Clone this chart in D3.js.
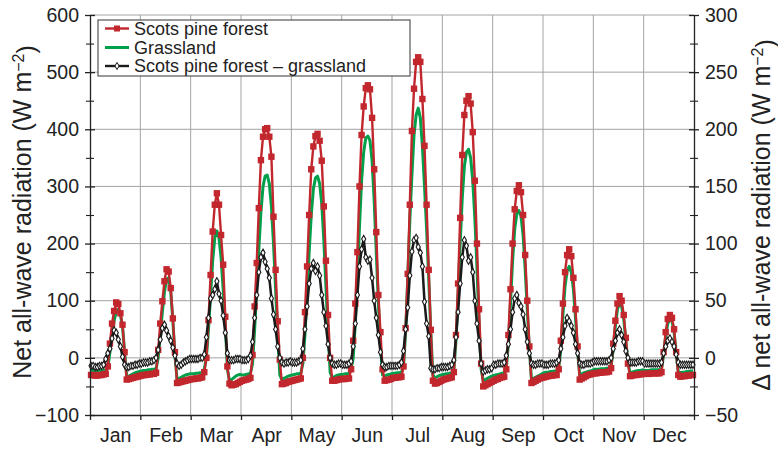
<!DOCTYPE html>
<html>
<head>
<meta charset="utf-8">
<script src="https://cdn.jsdelivr.net/npm/d3@7"></script>
<style>
  body { margin: 0; background: #fff; }
  text { font-family: "Liberation Sans", Arial, Helvetica, sans-serif; fill: #222; }
</style>
</head>
<body>
<div id="chart"></div>
<script>
// month names and hourly mean diurnal cycles (24 values per month)
var months = ["Jan", "Feb", "Mar", "Apr", "May", "Jun", "Jul", "Aug", "Sep", "Oct", "Nov", "Dec"];

// Scots pine forest, W m-2 (left axis)
var forest = [
  [-30,-30,-31,-31,-30,-30,-29,-28,-15,25,60,82,97,94,78,58,10,-38,-37,-36,-35,-34,-33,-32],
  [-31,-30,-30,-29,-29,-28,-28,-26,14,60,99,134,155,151,122,69,10,-44,-43,-42,-41,-40,-39,-38],
  [-37,-37,-36,-36,-35,-34,-25,0,66,145,221,268,288,268,215,163,72,-15,-45,-48,-47,-46,-44,-42],
  [-40,-39,-38,-37,-35,5,90,166,262,346,387,400,402,387,352,247,154,64,-3,-46,-45,-44,-42,-41],
  [-40,-39,-38,-37,-36,0,80,160,250,330,370,388,392,380,345,265,170,75,0,-40,-40,-39,-38,-37],
  [-37,-37,-36,-36,-20,30,95,185,300,390,440,472,477,470,420,330,220,110,45,-20,-40,-39,-38,-37],
  [-35,-35,-34,-34,-33,-15,52,147,268,397,471,518,526,518,453,371,268,154,49,-40,-45,-44,-42,-40],
  [-38,-37,-36,-35,-34,-25,40,130,245,355,425,450,458,445,395,310,200,85,-10,-50,-48,-46,-44,-42],
  [-40,-38,-37,-35,-34,-33,-20,40,120,200,260,292,302,290,250,180,100,20,-44,-42,-40,-38,-36,-35],
  [-34,-33,-32,-31,-31,-30,-30,-20,30,95,150,180,190,178,140,85,20,-38,-36,-34,-32,-30,-29,-28],
  [-27,-27,-26,-26,-25,-25,-25,-24,-18,25,65,95,108,100,75,35,-10,-32,-31,-30,-30,-29,-29,-28],
  [-28,-28,-28,-27,-27,-27,-27,-27,-25,10,45,68,75,70,50,10,-30,-33,-32,-32,-31,-31,-30,-30]
];

// Grassland, W m-2 (left axis)
var grass = [
  [-22,-22,-23,-23,-22,-22,-22,-22,-18,10,40,65,80,85,75,55,10,-33,-32,-30,-28,-26,-25,-24],
  [-23,-22,-22,-21,-21,-20,-20,-19,0,40,80,115,138,140,115,65,5,-38,-36,-34,-32,-30,-29,-28],
  [-28,-28,-27,-27,-26,-26,-20,0,50,110,170,210,222,210,175,120,60,-20,-40,-38,-35,-32,-30,-29],
  [-30,-30,-29,-28,-27,-10,50,120,190,255,300,318,320,305,265,200,120,40,-30,-38,-36,-34,-32,-31],
  [-30,-29,-28,-28,-27,-10,40,110,185,250,295,315,318,305,270,205,125,45,-25,-35,-33,-31,-30,-29],
  [-29,-28,-28,-27,-20,0,60,140,230,310,360,385,388,380,345,275,185,95,20,-30,-32,-30,-29,-28],
  [-27,-27,-26,-26,-25,-15,45,140,240,320,390,425,437,420,370,300,225,140,45,-30,-35,-33,-31,-30],
  [-29,-28,-28,-27,-26,-22,30,110,200,280,335,360,365,350,310,245,160,60,-20,-40,-38,-36,-34,-32],
  [-31,-30,-29,-28,-27,-26,-18,25,95,170,225,252,258,248,215,155,85,15,-38,-36,-34,-32,-30,-28],
  [-26,-25,-25,-24,-24,-23,-23,-18,15,75,125,152,160,150,120,70,10,-30,-28,-26,-25,-24,-23,-22],
  [-20,-20,-20,-19,-19,-19,-18,-18,-14,15,55,85,95,90,68,30,-8,-26,-25,-24,-23,-22,-22,-21],
  [-22,-22,-22,-21,-21,-21,-21,-21,-20,5,38,60,68,65,45,8,-24,-26,-25,-25,-24,-24,-23,-23]
];

// Scots pine forest - grassland, W m-2 (right axis)
var diff = [
  [-7,-7,-8,-8,-7,-7,-6,-1,4,8,17,24,22,16,10,1,-6,-8,-8,-7,-7,-6,-6,-5],
  [-5,-4,-4,-4,-3,-3,-2,0,7,16,26,29,24,19,15,9,2,-5,-7,-6,-4,-3,-2,-1],
  [-1,-1,-1,-1,0,0,3,18,35,52,55,60,67,56,50,37,22,4,-2,-2,-2,-1,-1,-1],
  [-2,-2,-2,-1,2,14,35,55,75,88,92,84,78,70,52,38,25,10,0,-4,-5,-4,-4,-3],
  [-4,-4,-4,-3,-2,8,25,45,65,78,83,76,80,72,55,40,28,12,0,-5,-6,-6,-5,-5],
  [-6,-6,-6,-5,-3,10,30,55,80,95,104,88,85,86,70,50,35,20,5,-6,-8,-8,-7,-7],
  [-7,-7,-7,-6,-4,6,25,44,72,93,103,105,97,92,80,49,30,19,-9,-10,-10,-9,-9,-8],
  [-8,-8,-8,-7,-6,-2,18,40,65,88,103,98,85,88,75,50,30,15,-5,-12,-11,-10,-10,-9],
  [-6,-6,-5,-5,-5,-4,2,12,25,40,52,55,48,45,38,25,14,4,-5,-6,-6,-5,-5,-5],
  [-6,-6,-6,-5,-5,-5,-4,-2,8,18,28,35,32,28,22,12,4,-5,-6,-6,-5,-5,-5,-4],
  [-3,-3,-3,-3,-3,-3,-3,-2,0,8,15,22,25,20,14,6,0,-4,-4,-4,-4,-3,-3,-3],
  [-5,-5,-5,-5,-5,-5,-5,-5,-4,4,10,15,17,14,10,3,-4,-6,-6,-6,-6,-6,-6,-6]
];

var leftTicks = [-100, 0, 100, 200, 300, 400, 500, 600];
var rightTicks = [-50, 0, 50, 100, 150, 200, 250, 300];

var seriesNames = ["Scots pine forest", "Grassland", "Scots pine forest \u2013 grassland"];
var red = "#c1272d", green = "#00a04b", black = "#1a1a1a";

// set the dimensions and margins of the graph
var margin = {top: 15, right: 84, bottom: 36, left: 90},
  width = 778 - margin.left - margin.right,
  height = 451 - margin.top - margin.bottom;

var svg = d3.select("#chart").append("svg")
  .attr("width", 778)
  .attr("height", 451)
  .append("g")
  .attr("transform", "translate(" + margin.left + "," + margin.top + ")");

var nHours = months.length * 24;
var x = d3.scaleLinear().domain([0, nHours]).range([0, width]);
var yL = d3.scaleLinear().domain([-100, 600]).range([height, 0]);
var yR = d3.scaleLinear().domain([-50, 300]).range([height, 0]);

// grid
svg.append("g").selectAll("line.h")
  .data(leftTicks.slice(1))
  .enter().append("line")
  .attr("x1", 0).attr("x2", width)
  .attr("y1", function(d) { return yL(d); })
  .attr("y2", function(d) { return yL(d); })
  .attr("stroke", "#a3a3a3").attr("stroke-width", 1);
svg.append("g").selectAll("line.v")
  .data(d3.range(24, nHours, 24))
  .enter().append("line")
  .attr("x1", function(d) { return x(d); })
  .attr("x2", function(d) { return x(d); })
  .attr("y1", 0).attr("y2", height)
  .attr("stroke", "#a3a3a3").attr("stroke-width", 1);

function flat(arr) {
  return arr.flat().map(function(v, k) { return {k: k, v: v}; });
}
var fPts = flat(forest), gPts = flat(grass), dPts = flat(diff);

var lineL = d3.line().x(function(d) { return x(d.k + 0.5); }).y(function(d) { return yL(d.v); });
var lineR = d3.line().x(function(d) { return x(d.k + 0.5); }).y(function(d) { return yR(d.v); });

// grassland
svg.append("path").datum(gPts)
  .attr("fill", "none").attr("stroke", green).attr("stroke-width", 3)
  .attr("stroke-linejoin", "round").attr("d", lineL);

// forest
svg.append("path").datum(fPts)
  .attr("fill", "none").attr("stroke", red).attr("stroke-width", 2.4)
  .attr("stroke-linejoin", "round").attr("d", lineL);
svg.append("g").selectAll("rect")
  .data(fPts).enter().append("rect")
  .attr("x", function(d) { return x(d.k + 0.5) - 3.2; })
  .attr("y", function(d) { return yL(d.v) - 3.2; })
  .attr("width", 6.4).attr("height", 6.4)
  .attr("fill", red);

// difference
svg.append("path").datum(dPts)
  .attr("fill", "none").attr("stroke", black).attr("stroke-width", 2.5)
  .attr("stroke-linejoin", "round").attr("d", lineR);
var diamond = d3.symbol().type(d3.symbolDiamond).size(15);
svg.append("g").selectAll("path")
  .data(dPts).enter().append("path")
  .attr("transform", function(d) { return "translate(" + x(d.k + 0.5) + "," + yR(d.v) + ")"; })
  .attr("d", diamond)
  .attr("fill", "#fff").attr("stroke", black).attr("stroke-width", 1.1);

// axes
var fs = "19.5px";
var gl = svg.append("g")
  .call(d3.axisLeft(yL).tickValues(leftTicks).tickSize(5).tickSizeOuter(0).tickPadding(6));
gl.selectAll(".tick line").attr("x1", 5);
var glm = svg.append("g")
  .call(d3.axisLeft(yL).tickValues(d3.range(-50, 600, 100)).tickSize(4).tickFormat(""));
glm.selectAll(".tick line").attr("x1", 4);
glm.select(".domain").remove();

var gr = svg.append("g").attr("transform", "translate(" + width + ",0)")
  .call(d3.axisRight(yR).tickValues(rightTicks).tickSize(5).tickSizeOuter(0).tickPadding(6));
gr.selectAll(".tick line").attr("x1", -5);
var grm = svg.append("g").attr("transform", "translate(" + width + ",0)")
  .call(d3.axisRight(yR).tickValues(d3.range(-25, 300, 50)).tickSize(4).tickFormat(""));
grm.selectAll(".tick line").attr("x1", -4);
grm.select(".domain").remove();

var gb = svg.append("g").attr("transform", "translate(0," + height + ")")
  .call(d3.axisBottom(x).tickValues(d3.range(0, nHours + 1, 24)).tickSize(5).tickSizeOuter(0).tickFormat(""));
var gm = svg.append("g").attr("transform", "translate(0," + height + ")")
  .call(d3.axisBottom(x).tickValues(d3.range(12, nHours, 24)).tickSize(0).tickPadding(13)
    .tickFormat(function(d, i) { return months[i]; }));
gm.select(".domain").remove();

[gl, gr, gb].forEach(function(a) {
  a.select(".domain").attr("stroke", "#222").attr("stroke-width", 1.3);
  a.selectAll(".tick line").attr("stroke", "#222").attr("stroke-width", 1.3);
});
[glm, grm].forEach(function(a) {
  a.selectAll(".tick line").attr("stroke", "#222").attr("stroke-width", 1.1);
});
svg.selectAll(".tick text").style("font-size", fs).attr("fill", "#222")
  .style("font-family", "'Liberation Sans', Arial, sans-serif");

// axis titles
function title(tx, ty, pre) {
  var t = svg.append("text")
    .attr("transform", "translate(" + tx + "," + ty + ") rotate(-90)")
    .attr("text-anchor", "middle").attr("dy", "0.35em")
    .style("font-size", "25px");
  t.append("tspan").text(pre + " (W m");
  t.append("tspan").text("\u22122").attr("dy", "-0.45em").style("font-size", "16px");
  t.append("tspan").text(")").attr("dy", "0.45em");
}
title(22 - margin.left, 212 - margin.top, "Net all-wave radiation");
title(761 - margin.left, 215 - margin.top, "\u0394 net all-wave radiation");

// legend
var lg = svg.append("g").attr("transform", "translate(8,5)");
lg.append("rect").attr("width", 312).attr("height", 56)
  .attr("fill", "#fff").attr("stroke", "#555").attr("stroke-width", 1.2);
var rowY = [8.5, 27.5, 46];
seriesNames.forEach(function(name, i) {
  var c = [red, green, black][i];
  lg.append("line").attr("x1", 7).attr("x2", 31)
    .attr("y1", rowY[i]).attr("y2", rowY[i])
    .attr("stroke", c).attr("stroke-width", i === 1 ? 3 : 2.4);
  if (i === 0) {
    lg.append("rect").attr("x", 16).attr("y", rowY[i] - 3).attr("width", 6).attr("height", 6).attr("fill", red);
  }
  if (i === 2) {
    lg.append("path").attr("transform", "translate(19," + rowY[i] + ")")
      .attr("d", diamond).attr("fill", "#fff").attr("stroke", black).attr("stroke-width", 1);
  }
  lg.append("text").attr("x", 36).attr("y", rowY[i]).attr("dy", "0.35em")
    .style("font-size", "18px").text(name);
});
</script>
</body>
</html>
